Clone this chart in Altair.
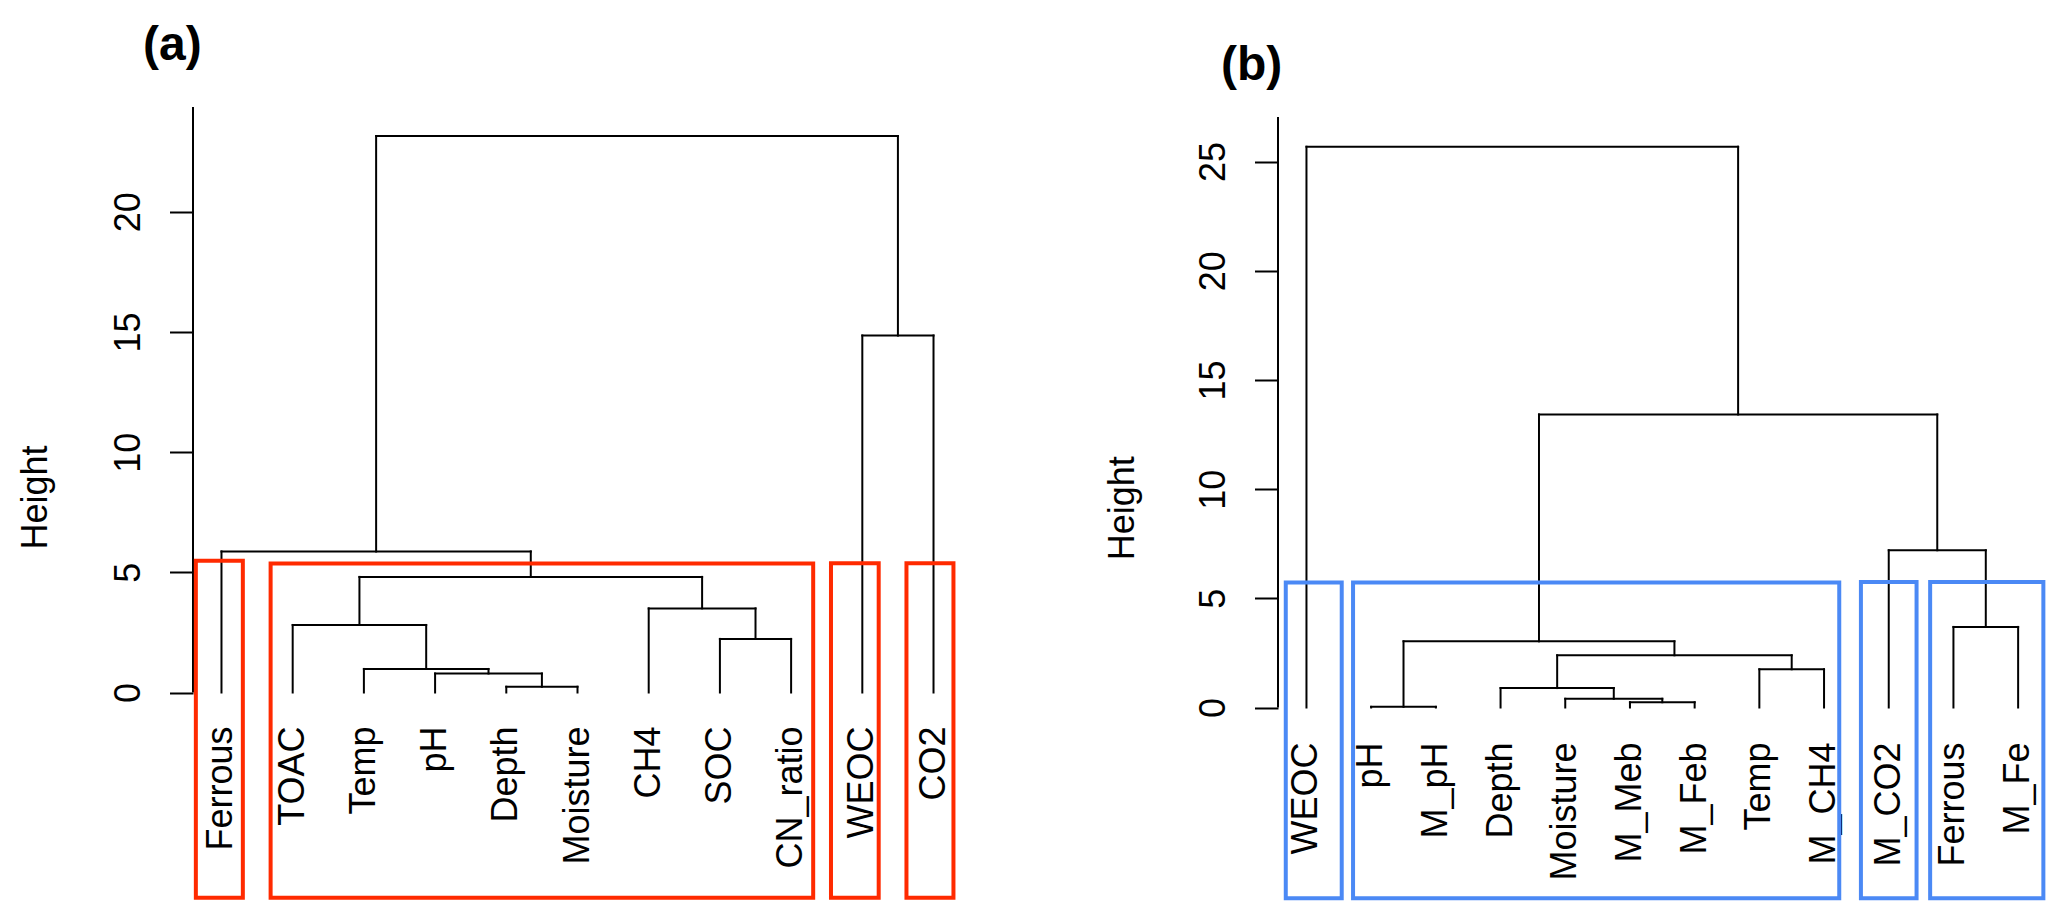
import altair as alt
import pandas as pd

FONT = "Liberation Sans"

# ---------------- Panel (a) ----------------
a_leaves = ["Ferrous", "TOAC", "Temp", "pH", "Depth", "Moisture",
            "CH4", "SOC", "CN_ratio", "WEOC", "CO2"]
# R-style merge table: negative = leaf number, positive = earlier merge number
a_merge_left = [-5, -4, -3, -2, -8, -7, 4, -1, -10, 8]
a_merge_right = [-6, 1, 2, 3, -9, 5, 6, 7, -11, 9]
a_merge_height = [0.24, 0.79, 0.98, 2.81, 2.23, 3.50, 4.81, 5.87, 14.85, 23.15]
a_ticks = [0, 5, 10, 15, 20]
a_box_left = [0.64, 1.69, 9.56, 10.62]
a_box_right = [1.30, 9.31, 10.23, 11.28]
a_box_top = [5.48, 5.37, 5.38, 5.38]
a_box_bottom = [-8.54, -8.54, -8.54, -8.54]

# ---------------- Panel (b) ----------------
b_leaves = ["WEOC", "pH", "M_pH", "Depth", "Moisture", "M_Meb", "M_Feb",
            "Temp", "M_CH4", "M_CO2", "Ferrous", "M_Fe"]
b_merge_left = [-2, -6, -5, -4, -8, 4, 1, -11, -10, 7, -1]
b_merge_right = [-3, -7, 2, 3, -9, 5, 6, -12, 8, 9, 10]
b_merge_height = [0.03, 0.24, 0.40, 0.89, 1.75, 2.39, 3.03, 3.69, 7.20, 13.42, 25.68]
b_ticks = [0, 5, 10, 15, 20, 25]
b_box_left = [0.68, 1.72, 9.57, 10.64]
b_box_right = [1.545, 9.235, 10.43, 12.39]
b_box_top = [5.72, 5.72, 5.75, 5.75]
b_box_bottom = [-8.74, -8.74, -8.74, -8.74]


def dendro_segments(lefts, rights, heights):
    pos, hgt, rows = {}, {}, []

    def node(ref):
        if ref < 0:
            return float(-ref), 0.0
        return pos[ref], hgt[ref]

    for k, (l, r, h) in enumerate(zip(lefts, rights, heights), start=1):
        xl, yl = node(l)
        xr, yr = node(r)
        rows.append(dict(x=xl, x2=xl, y=yl, y2=h))
        rows.append(dict(x=xr, x2=xr, y=yr, y2=h))
        rows.append(dict(x=xl, x2=xr, y=h, y2=h))
        pos[k] = (xl + xr) / 2
        hgt[k] = h
    return pd.DataFrame(rows)


def panel(leaves, lefts, rights, heights, ticks, boxes, color, label,
          xdom, ydom, axis_top, width, height, title_x, title_y,
          label_dx, lab_dx, lab_offset):
    segs = dendro_segments(lefts, rights, heights)
    leaf_df = pd.DataFrame({"name": leaves,
                            "pos": list(range(1, len(leaves) + 1)),
                            "base": [0.0] * len(leaves)})
    box_df = pd.DataFrame({"x": boxes[0], "x2": boxes[1],
                           "y": boxes[2], "y2": boxes[3]})
    axline_df = pd.DataFrame({"x": [xdom[0]], "y": [0.0], "y2": [axis_top]})

    xs = alt.Scale(domain=xdom, nice=False, zero=False)
    ys = alt.Scale(domain=ydom, nice=False, zero=False)
    yaxis = alt.Axis(values=ticks, domain=False, grid=False,
                     tickSize=23.5, tickWidth=2, tickColor="black",
                     labelFontSize=36, labelFont=FONT, labelColor="black",
                     labelAngle=270, labelAlign="center", labelBaseline="bottom",
                     labelPadding=22, labelFlush=False, labelOverlap=False,
                     title="Height", titleFont=FONT, titleFontSize=36,
                     titleFontWeight="normal", titleColor="black",
                     titleAngle=270, titleAlign="center", titleBaseline="middle",
                     titleX=title_x, titleY=title_y)

    tree = alt.Chart(segs).mark_rule(color="black", strokeWidth=2,
                                     strokeCap="square").encode(
        x=alt.X("x:Q", scale=xs, axis=None),
        x2="x2:Q",
        y=alt.Y("y:Q", scale=ys, axis=yaxis),
        y2="y2:Q",
    )
    axline = alt.Chart(axline_df).mark_rule(color="black", strokeWidth=2).encode(
        x=alt.X("x:Q", scale=xs, axis=None),
        y=alt.Y("y:Q", scale=ys),
        y2="y2:Q",
    )
    labels = alt.Chart(leaf_df).mark_text(
        angle=270, align="right", baseline="middle", dx=label_dx,
        fontSize=36, font=FONT, color="black").encode(
        x=alt.X("pos:Q", scale=xs, axis=None),
        y=alt.Y("base:Q", scale=ys),
        text="name:N",
    )
    rects = alt.Chart(box_df).mark_rect(fillOpacity=0, stroke=color,
                                        strokeWidth=4).encode(
        x=alt.X("x:Q", scale=xs, axis=None),
        x2="x2:Q",
        y=alt.Y("y:Q", scale=ys),
        y2="y2:Q",
    )
    return alt.layer(tree, axline, labels, rects).properties(
        width=width, height=height,
        title=alt.TitleParams(text=label, anchor="start", frame="group",
                              dx=lab_dx, offset=lab_offset, fontSize=48,
                              fontWeight="bold", font=FONT, color="black"),
    )


pa = panel(a_leaves, a_merge_left, a_merge_right, a_merge_height, a_ticks,
           (a_box_left, a_box_right, a_box_top, a_box_bottom), "#FF2A00", "(a)",
           [0.6, 11.4], [0, 24.36], 24.36, 769, 585.5, -158, 390, -34, -50, 36)

pb = panel(b_leaves, b_merge_left, b_merge_right, b_merge_height, b_ticks,
           (b_box_left, b_box_right, b_box_top, b_box_bottom), "#4B89F5", "(b)",
           [0.56, 12.44], [0, 27.5], 27.04, 768.6, 600.5, -156, 400.7, -35, -57, 17)

chart = alt.hconcat(pa, pb, spacing=316, bounds="flush").properties(
    padding={"left": 9, "top": 14, "right": 5, "bottom": 5},
    background="white",
).configure_view(stroke=None)

chart.save("out.html", embed_options={"renderer": "svg", "actions": False})
